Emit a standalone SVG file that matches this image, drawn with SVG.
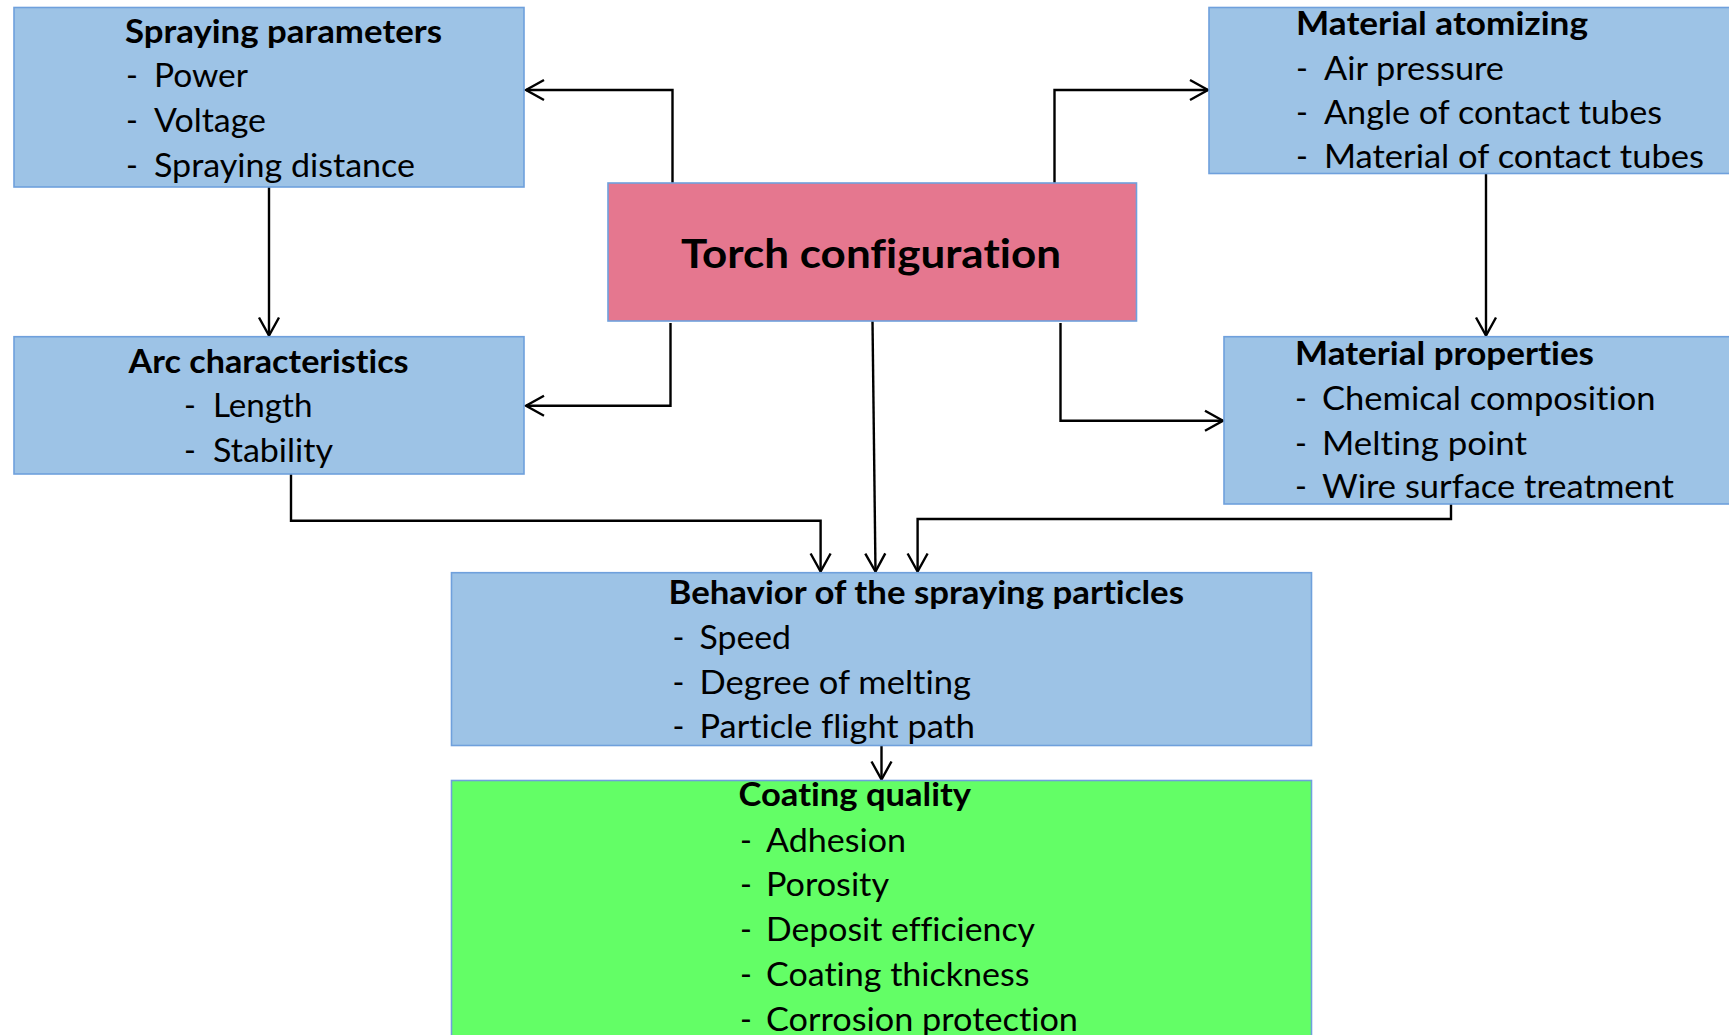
<svg xmlns="http://www.w3.org/2000/svg" width="1729" height="1035" viewBox="0 0 1729 1035">
  <defs>
    <style>
      .box { stroke: #6FA0DC; stroke-width: 1.6; }
      .blue { fill: #9DC3E6; }
      .pink { fill: #E5778F; }
      .green { fill: #63FE66; }
      text { font-family: Lato, "Open Sans", "Liberation Sans", sans-serif; font-size: 32px; fill: #000; font-variant-ligatures: none; font-feature-settings: "liga" 0, "dlig" 0; }
      .title { font-weight: bold; }
      .big { font-size: 41px; font-weight: bold; }
      .link { fill: none; stroke: #000; stroke-width: 2.4; marker-end: url(#open); }
    </style>
    <marker id="open" markerUnits="userSpaceOnUse" viewBox="-20 -12 22 24" refX="0" refY="0" markerWidth="22" markerHeight="24" orient="auto">
      <path d="M-18,-10 L0,0 L-18,10" fill="none" stroke="#000" stroke-width="2.4"/>
    </marker>
  </defs>

  <rect width="1729" height="1035" fill="#fff"/>

  <!-- Connectors -->
  <g id="connectors">
    <path class="link" d="M672.5 187 V90 H526"/>
    <path class="link" d="M670.5 323 V405.7 H526"/>
    <path class="link" d="M1054.5 183 V90 H1208"/>
    <path class="link" d="M1060.5 323 V420.7 H1223"/>
    <path class="link" d="M269 187 V335.5"/>
    <path class="link" d="M1486 173 V335.5"/>
    <path class="link" d="M291 474 V520.7 H820.6 V571.5"/>
    <path class="link" d="M872.5 321 L875.5 571.5"/>
    <path class="link" d="M1451 504 V519 H917.6 V571.5"/>
    <path class="link" d="M881.5 745.5 V779.5"/>
  </g>

  <!-- Spraying parameters -->
  <g id="spraying-parameters">
    <rect class="box blue" x="14" y="7.5" width="510" height="179.5"/>
    <text class="title" x="125" y="43" textLength="317" lengthAdjust="spacingAndGlyphs">Spraying parameters</text>
    <text x="126" y="87">-</text>
    <text x="154" y="87" textLength="94" lengthAdjust="spacingAndGlyphs">Power</text>
    <text x="126" y="132">-</text>
    <text x="154" y="132" textLength="112" lengthAdjust="spacingAndGlyphs">Voltage</text>
    <text x="126" y="177">-</text>
    <text x="154" y="177" textLength="261" lengthAdjust="spacingAndGlyphs">Spraying distance</text>
  </g>

  <!-- Arc characteristics -->
  <g id="arc-characteristics">
    <rect class="box blue" x="14" y="336.7" width="510" height="137.3"/>
    <text class="title" x="128.6" y="373" textLength="280" lengthAdjust="spacingAndGlyphs">Arc characteristics</text>
    <text x="184" y="417">-</text>
    <text x="213" y="417" textLength="99.5" lengthAdjust="spacingAndGlyphs">Length</text>
    <text x="184" y="462">-</text>
    <text x="213" y="462" textLength="120" lengthAdjust="spacingAndGlyphs">Stability</text>
  </g>

  <!-- Torch configuration -->
  <g id="torch-configuration">
    <rect class="box pink" x="608" y="183" width="528.5" height="138"/>
    <text class="big" x="681" y="268" textLength="380" lengthAdjust="spacingAndGlyphs">Torch configuration</text>
  </g>

  <!-- Material atomizing -->
  <g id="material-atomizing">
    <rect class="box blue" x="1209" y="7.5" width="540" height="166"/>
    <text class="title" x="1296" y="35" textLength="292" lengthAdjust="spacingAndGlyphs">Material atomizing</text>
    <text x="1296" y="80">-</text>
    <text x="1324" y="80" textLength="180" lengthAdjust="spacingAndGlyphs">Air pressure</text>
    <text x="1296" y="124">-</text>
    <text x="1324" y="124" textLength="338" lengthAdjust="spacingAndGlyphs">Angle of contact tubes</text>
    <text x="1296" y="168">-</text>
    <text x="1324" y="168" textLength="380" lengthAdjust="spacingAndGlyphs">Material of contact tubes</text>
  </g>

  <!-- Material properties -->
  <g id="material-properties">
    <rect class="box blue" x="1224" y="336.7" width="525" height="167.3"/>
    <text class="title" x="1295" y="365" textLength="299" lengthAdjust="spacingAndGlyphs">Material properties</text>
    <text x="1295" y="410">-</text>
    <text x="1322" y="410" textLength="333.5" lengthAdjust="spacingAndGlyphs">Chemical composition</text>
    <text x="1295" y="455">-</text>
    <text x="1322" y="455" textLength="205" lengthAdjust="spacingAndGlyphs">Melting point</text>
    <text x="1295" y="498">-</text>
    <text x="1322" y="498" textLength="352" lengthAdjust="spacingAndGlyphs">Wire surface treatment</text>
  </g>

  <!-- Behavior of the spraying particles -->
  <g id="particle-behavior">
    <rect class="box blue" x="451.5" y="572.7" width="860" height="172.8"/>
    <text class="title" x="668.5" y="604" textLength="515.5" lengthAdjust="spacingAndGlyphs">Behavior of the spraying particles</text>
    <text x="672.5" y="649">-</text>
    <text x="699.5" y="649" textLength="91.5" lengthAdjust="spacingAndGlyphs">Speed</text>
    <text x="672.5" y="694">-</text>
    <text x="699.5" y="694" textLength="271.5" lengthAdjust="spacingAndGlyphs">Degree of melting</text>
    <text x="672.5" y="738">-</text>
    <text x="699.5" y="738" textLength="275.5" lengthAdjust="spacingAndGlyphs">Particle flight path</text>
  </g>

  <!-- Coating quality -->
  <g id="coating-quality">
    <rect class="box green" x="451.5" y="780.5" width="860" height="270"/>
    <text class="title" x="738.5" y="806" textLength="232.5" lengthAdjust="spacingAndGlyphs">Coating quality</text>
    <text x="740" y="852">-</text>
    <text x="766" y="852" textLength="140" lengthAdjust="spacingAndGlyphs">Adhesion</text>
    <text x="740" y="896">-</text>
    <text x="766" y="896" textLength="123" lengthAdjust="spacingAndGlyphs">Porosity</text>
    <text x="740" y="941">-</text>
    <text x="766" y="941" textLength="269" lengthAdjust="spacingAndGlyphs">Deposit efficiency</text>
    <text x="740" y="986">-</text>
    <text x="766" y="986" textLength="263.5" lengthAdjust="spacingAndGlyphs">Coating thickness</text>
    <text x="740" y="1031">-</text>
    <text x="766" y="1031" textLength="312" lengthAdjust="spacingAndGlyphs">Corrosion protection</text>
  </g>
</svg>
